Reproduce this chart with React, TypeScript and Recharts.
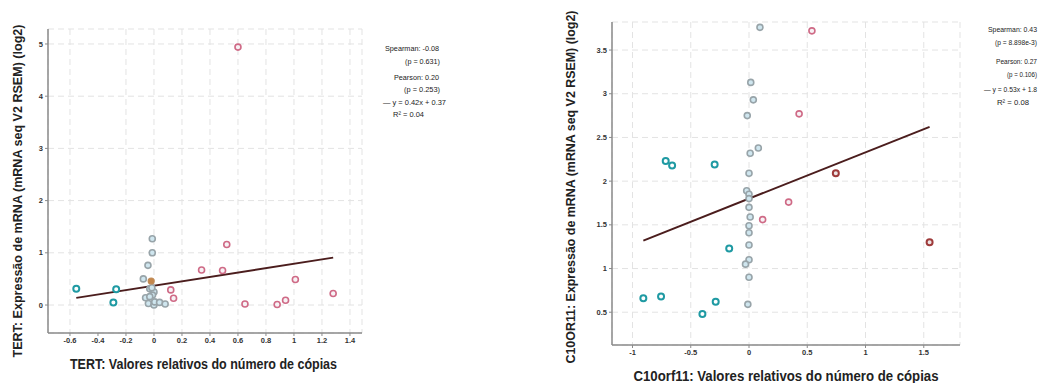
import React from 'react';
import { ScatterChart, Scatter, XAxis, YAxis, CartesianGrid, ReferenceLine } from 'recharts';

// TERT: copy number (x) vs mRNA expression (y), grouped by copy-number call
const tertLoss = [[-0.555, 0.31], [-0.27, 0.30], [-0.29, 0.05]];
const tertNeutral = [
  [-0.012, 1.27], [-0.012, 1.0], [-0.043, 0.76], [-0.076, 0.5], [-0.03, 0.31],
  [0.0, 0.25], [-0.01, 0.19], [-0.06, 0.14], [-0.03, 0.16], [-0.04, 0.03],
  [0.0, 0.0], [0.005, 0.06], [0.04, 0.05], [0.08, 0.02], [-0.015, 0.33],
];
const tertOther = [[-0.02, 0.46]];
const tertGain = [
  [0.6, 4.94], [0.52, 1.16], [0.34, 0.67], [0.49, 0.66], [0.12, 0.29], [0.14, 0.13],
  [0.65, 0.02], [1.01, 0.49], [0.88, 0.01], [0.94, 0.09], [1.28, 0.22],
];
const tertFit = [0.42, 0.37]; // slope, intercept
const tertStats = ['Spearman: -0.08', '(p = 0.631)', 'Pearson: 0.20', '(p = 0.253)', '— y = 0.42x + 0.37', 'R² = 0.04'];
const tertXTicks = [-0.6, -0.4, -0.2, 0, 0.2, 0.4, 0.6, 0.8, 1, 1.2, 1.4];
const tertYTicks = [0, 1, 2, 3, 4, 5];

// C10orf11
const c10Loss = [
  [-0.715, 2.23], [-0.66, 2.18], [-0.295, 2.19], [-0.17, 1.23],
  [-0.907, 0.66], [-0.755, 0.68], [-0.286, 0.62], [-0.4, 0.48],
];
const c10Neutral = [
  [0.094, 3.76], [0.015, 3.13], [0.037, 2.93], [-0.015, 2.75], [0.08, 2.38], [0.01, 2.32],
  [0.0, 2.09], [-0.02, 1.89], [0.0, 1.85], [0.0, 1.8], [0.0, 1.7], [0.01, 1.59], [0.0, 1.49],
  [0.0, 1.41], [0.0, 1.27], [0.0, 1.1], [-0.03, 1.05], [0.0, 0.9], [-0.01, 0.59],
];
const c10Gain = [[0.54, 3.72], [0.43, 2.77], [0.34, 1.76], [0.117, 1.56]];
const c10Amp = [[0.745, 2.09], [1.55, 1.3]];
const c10Fit = [0.53, 1.8];
const c10Stats = ['Spearman: 0.43', '(p = 8.898e-3)', 'Pearson: 0.27', '(p = 0.106)', '— y = 0.53x + 1.8', 'R² = 0.08'];
const c10XTicks = [-1, -0.5, 0, 0.5, 1, 1.5];
const c10YTicks = [0.5, 1, 1.5, 2, 2.5, 3, 3.5];

const toPts = (arr: number[][]) => arr.map(([x, y]) => ({ x, y }));

const ring = (stroke: string, fill: string, sw: number) => (props: any) => (
  <circle cx={props.cx} cy={props.cy} r={3} stroke={stroke} fill={fill} strokeWidth={sw} />
);

const fitSegment = (fit: number[], groups: number[][][]) => {
  const xs = groups.flat().map((p) => p[0]);
  const x0 = Math.min(...xs);
  const x1 = Math.max(...xs);
  return [
    { x: x0, y: fit[0] * x0 + fit[1] },
    { x: x1, y: fit[0] * x1 + fit[1] },
  ];
};

const tickStyle = { fontSize: 7.5, fontWeight: 700, fill: '#333', fontFamily: 'Liberation Sans, Arial, sans-serif' };
const axisLine = { stroke: '#8a8a8a', strokeWidth: 1.5 };
const tickLine = { stroke: '#8a8a8a' };
const fmt = (v: number) => String(v);

const TEAL = ring('#1f9aa3', '#ffffff', 2);
const GRAY = ring('#98a4a9', '#cfe6ef', 1.6);
const PINK = ring('#cf6a86', '#f7f2f5', 1.6);
const DARK = ring('#9e3b3b', '#ece4e4', 2);
const ORANGE = ring('#c08a55', '#c4874c', 1.2);

const statRowsLeft = [[385, 439, 48], [405, 440, 61], [394, 439, 77], [404, 440, 89], [383, 446, 102], [393, 424, 114]];
const statRowsRight = [[988, 1037, 29], [995, 1037, 42], [996, 1037, 61], [1007, 1037, 74], [984, 1037, 89], [997, 1029, 102]];

const titleFont = { fontFamily: 'Liberation Sans, Arial, sans-serif', fontSize: 14, fontWeight: 700, fill: '#222' };
const sideTitleFont = { ...titleFont, fontSize: 12 };
const statFont = { fontFamily: 'Liberation Sans, Arial, sans-serif', fontSize: 7.5, fill: '#222' };

export default function App() {
  return (
    <div style={{ position: 'absolute', left: 0, top: 0, width: 1051, height: 383, background: '#fff' }}>
      <div style={{ position: 'absolute', left: 0, top: 0 }}>
        <ScatterChart width={370} height={383} margin={{ top: 29, right: 8, bottom: 20, left: 0 }}>
          <CartesianGrid stroke="#e3e3e3" strokeDasharray="6 4" />
          <XAxis type="number" dataKey="x" domain={[-0.757, 1.486]} ticks={tertXTicks} tickFormatter={fmt}
            height={30} tick={tickStyle} axisLine={axisLine} tickLine={tickLine} tickSize={3} allowDataOverflow />
          <YAxis type="number" dataKey="y" domain={[-0.536, 5.287]} ticks={tertYTicks} tickFormatter={fmt}
            width={48} tick={tickStyle} axisLine={axisLine} tickLine={tickLine} tickSize={3} allowDataOverflow />
          <Scatter data={toPts(tertNeutral)} shape={GRAY} isAnimationActive={false} />
          <Scatter data={toPts(tertOther)} shape={ORANGE} isAnimationActive={false} />
          <Scatter data={toPts(tertLoss)} shape={TEAL} isAnimationActive={false} />
          <Scatter data={toPts(tertGain)} shape={PINK} isAnimationActive={false} />
          <ReferenceLine segment={fitSegment(tertFit, [tertLoss, tertNeutral, tertOther, tertGain])}
            stroke="#4b1d1d" strokeWidth={2} />
        </ScatterChart>
      </div>
      <div style={{ position: 'absolute', left: 560, top: 0 }}>
        <ScatterChart width={410} height={383} margin={{ top: 22, right: 10, bottom: 12, left: 0 }}>
          <CartesianGrid stroke="#e3e3e3" strokeDasharray="6 4" />
          <XAxis type="number" dataKey="x" domain={[-1.176, 1.811]} ticks={c10XTicks} tickFormatter={fmt}
            height={26} tick={tickStyle} axisLine={axisLine} tickLine={tickLine} tickSize={3} allowDataOverflow />
          <YAxis type="number" dataKey="y" domain={[0.125, 3.821]} ticks={c10YTicks} tickFormatter={fmt}
            width={52} tick={tickStyle} axisLine={axisLine} tickLine={tickLine} tickSize={3} allowDataOverflow />
          <Scatter data={toPts(c10Neutral)} shape={GRAY} isAnimationActive={false} />
          <Scatter data={toPts(c10Loss)} shape={TEAL} isAnimationActive={false} />
          <Scatter data={toPts(c10Gain)} shape={PINK} isAnimationActive={false} />
          <Scatter data={toPts(c10Amp)} shape={DARK} isAnimationActive={false} />
          <ReferenceLine segment={fitSegment(c10Fit, [c10Loss, c10Neutral, c10Gain, c10Amp])}
            stroke="#4b1d1d" strokeWidth={2} />
        </ScatterChart>
      </div>
      {/* axis titles and correlation notes */}
      <svg width={1051} height={383} style={{ position: 'absolute', left: 0, top: 0, pointerEvents: 'none' }}>
        <g transform="translate(18 191) rotate(-90)">
          <text x={0} y={0} textAnchor="middle" dominantBaseline="central"
            textLength={333} lengthAdjust="spacingAndGlyphs" style={sideTitleFont}>
            TERT:  Expressão de mRNA  (mRNA  seq V2 RSEM)  (log2)
          </text>
        </g>
        <text x={203.5} y={364} textAnchor="middle" dominantBaseline="central"
          textLength={267} lengthAdjust="spacingAndGlyphs" style={titleFont}>
          TERT:  Valores relativos do número de cópias
        </text>
        <g transform="translate(571 187) rotate(-90)">
          <text x={0} y={0} textAnchor="middle" dominantBaseline="central"
            textLength={353} lengthAdjust="spacingAndGlyphs" style={sideTitleFont}>
            C10OR11: Expressão de mRNA (mRNA  seq V2 RSEM)  (log2)
          </text>
        </g>
        <text x={786} y={376} textAnchor="middle" dominantBaseline="central"
          textLength={305} lengthAdjust="spacingAndGlyphs" style={titleFont}>
          C10orf11: Valores relativos do número de cópias
        </text>
        {tertStats.map((s, i) => (
          <text key={'l' + i} x={statRowsLeft[i][0]} y={statRowsLeft[i][2]} dominantBaseline="central"
            textLength={statRowsLeft[i][1] - statRowsLeft[i][0]} lengthAdjust="spacingAndGlyphs" style={statFont}>
            {s}
          </text>
        ))}
        {c10Stats.map((s, i) => (
          <text key={'r' + i} x={statRowsRight[i][0]} y={statRowsRight[i][2]} dominantBaseline="central"
            textLength={statRowsRight[i][1] - statRowsRight[i][0]} lengthAdjust="spacingAndGlyphs" style={statFont}>
            {s}
          </text>
        ))}
      </svg>
    </div>
  );
}
